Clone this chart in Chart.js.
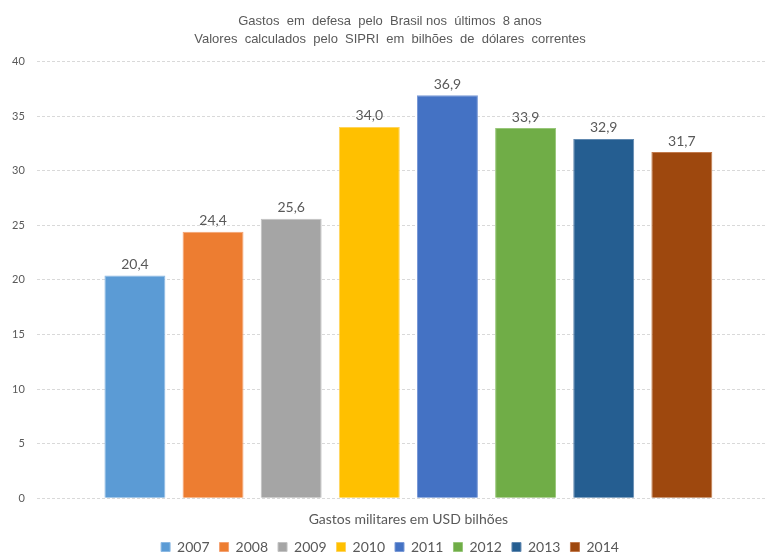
<!DOCTYPE html>
<html lang="pt-BR">
<head>
<meta charset="utf-8">
<title>Gastos em defesa - Brasil</title>
<script src="https://cdn.jsdelivr.net/npm/chart.js@4.4.1/dist/chart.umd.min.js"></script>
<style>
    html, body { margin: 0; padding: 0; background: #fff; overflow: hidden; }
    #wrap { width: 790px; height: 566px; }
</style>
</head>
<body>
<div id="wrap"><canvas id="gastosChart"></canvas></div>
<script>
// Gastos militares do Brasil (SIPRI), em bilhões de USD correntes
const anos = ['2007', '2008', '2009', '2010', '2011', '2012', '2013', '2014'];
const valores = [20.4, 24.4, 25.6, 34.0, 36.9, 33.9, 32.9, 31.7];
const cores = ['#5b9bd5', '#ed7d31', '#a5a5a5', '#ffc000', '#4472c4', '#70ad47', '#255e91', '#9e480e'];
const bordas = ['#8cb9e3', '#f4a272', '#c2c2c2', '#ffd45c', '#7b9ad6', '#98c77a', '#6189b0', '#c27a4c'];
const ticksY = [0, 5, 10, 15, 20, 25, 30, 35, 40];

const cinzaTexto = '#595959';

// Escreve o valor de cada barra logo acima dela
const rotulosValores = {
    id: 'rotulosValores',
    afterDatasetsDraw(chart) {
        const ctx = chart.ctx;
        ctx.save();
        ctx.font = '14px Lato';
        ctx.fillStyle = cinzaTexto;
        ctx.textAlign = 'center';
        ctx.textBaseline = 'bottom';
        chart.data.datasets.forEach((ds, i) => {
            const bar = chart.getDatasetMeta(i).data[0];
            if (!bar) return;
            const texto = ds.data[0].toFixed(1).replace('.', ',');
            ctx.fillText(texto, bar.x, bar.y - 4);
        });
        ctx.restore();
    }
};

document.addEventListener('DOMContentLoaded', () => {
    const ctx = document.getElementById('gastosChart');

    new Chart(ctx, {
        type: 'bar',
        data: {
            labels: [''],
            datasets: anos.map((ano, i) => ({
                label: ano,
                data: [valores[i]],
                backgroundColor: cores[i],
                borderColor: bordas[i],
                borderWidth: 1
            }))
        },
        options: {
            responsive: true,
            maintainAspectRatio: false,
            animation: false,
            layout: { padding: { left: 0, right: 10, top: 4, bottom: 2 } },
            datasets: {
                bar: { categoryPercentage: 0.841, barPercentage: 0.78 }
            },
            scales: {
                x: {
                    grid: { display: false },
                    border: { display: false },
                    ticks: { display: false },
                    title: {
                        display: true,
                        text: 'Gastos militares em USD bilhões',
                        color: cinzaTexto,
                        font: { family: 'Lato', size: 14 },
                        padding: { top: 5, bottom: 2 }
                    }
                },
                y: {
                    min: 0,
                    max: 40,
                    afterBuildTicks(axis) {
                        axis.ticks = ticksY.map(v => ({ value: v }));
                    },
                    grid: { color: '#d9d9d9', drawTicks: false },
                    border: { display: false, dash: [3, 2] },
                    ticks: {
                        color: cinzaTexto,
                        padding: 12,
                        font: { family: 'Lato', size: 11 }
                    }
                }
            },
            plugins: {
                title: {
                    display: true,
                    text: [
                        'Gastos  em  defesa  pelo  Brasil nos  últimos  8 anos',
                        'Valores  calculados  pelo  SIPRI  em  bilhões  de  dólares  correntes'
                    ],
                    color: cinzaTexto,
                    font: { family: 'Liberation Sans', size: 13, weight: 'normal', lineHeight: 1.4 },
                    padding: { top: 8, bottom: 13 }
                },
                legend: {
                    position: 'bottom',
                    labels: {
                        boxWidth: 9,
                        boxHeight: 9,
                        padding: 10,
                        color: cinzaTexto,
                        font: { family: 'Lato', size: 14 }
                    }
                },
                tooltip: { enabled: false }
            }
        },
        plugins: [rotulosValores]
    });
});
</script>
</body>
</html>
